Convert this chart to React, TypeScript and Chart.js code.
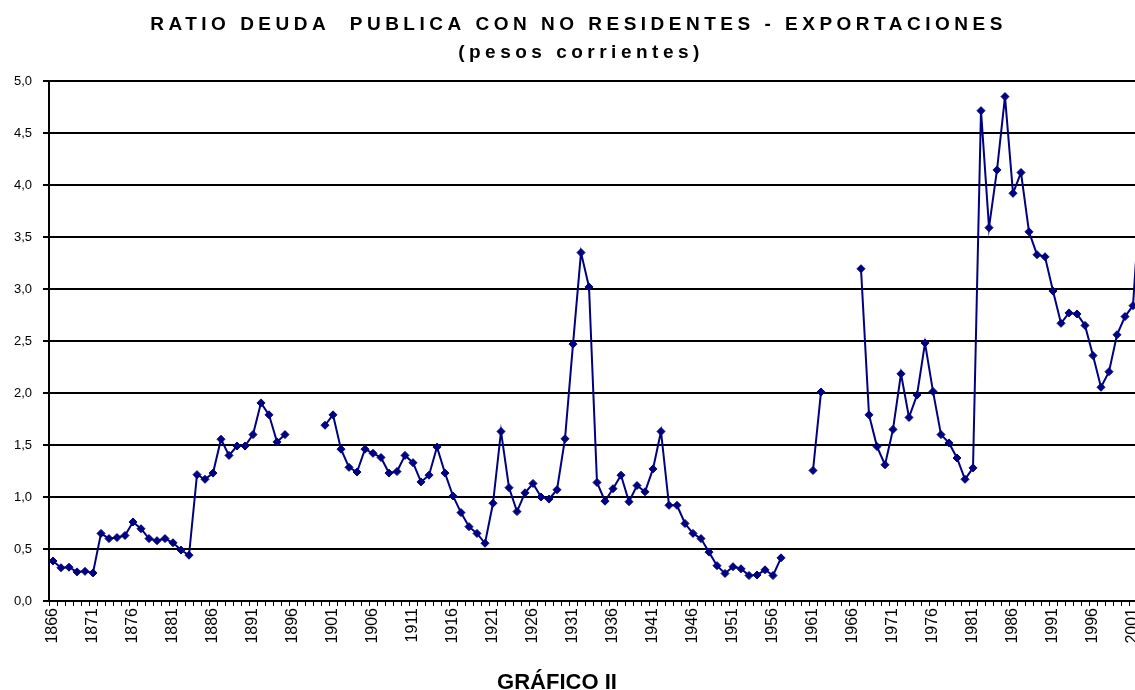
import React, { useEffect, useRef } from 'react';
import { Chart, registerables } from 'chart.js';

Chart.register(...registerables);

const titleLine1 = 'RATIO DEUDA  PUBLICA CON NO RESIDENTES - EXPORTACIONES';
const titleLine2 = '(pesos corrientes)';
const footerText = 'GRÁFICO II';

const firstYear = 1866;
const lastYear = 2002;
const years: string[] = Array.from({ length: lastYear - firstYear + 1 }, (_, i) => String(firstYear + i));

// Ratio deuda pública con no residentes / exportaciones (null = sin dato)
const ratio1866to1895: (number | null)[] = [
  0.385, 0.32, 0.325, 0.28, 0.285, 0.27, 0.65, 0.6, 0.61, 0.63,
  0.76, 0.695, 0.6, 0.58, 0.6, 0.56, 0.49, 0.44, 1.215, 1.17,
  1.23, 1.555, 1.4, 1.49, 1.49, 1.6, 1.905, 1.79, 1.53, 1.6,
];
const ratio1896to1899: (number | null)[] = [null, null, null, null];
const ratio1900to1957: (number | null)[] = [
  1.69, 1.79, 1.46, 1.285, 1.24, 1.46, 1.42, 1.38, 1.23, 1.245,
  1.4, 1.33, 1.145, 1.21, 1.48, 1.23, 1.01, 0.85, 0.715, 0.65,
  0.555, 0.94, 1.63, 1.09, 0.86, 1.04, 1.13, 1.0, 0.98, 1.07,
  1.56, 2.47, 3.35, 3.02, 1.14, 0.96, 1.08, 1.21, 0.955, 1.11,
  1.05, 1.27, 1.63, 0.92, 0.92, 0.745, 0.65, 0.6, 0.47, 0.34,
  0.265, 0.33, 0.31, 0.245, 0.25, 0.3, 0.245, 0.415,
];
const ratio1958to1960: (number | null)[] = [null, null, null];
const ratio1961to1962: (number | null)[] = [1.255, 2.01];
const ratio1963to1966: (number | null)[] = [null, null, null, null];
const ratio1967to2002: (number | null)[] = [
  3.195, 1.79, 1.485, 1.31, 1.65, 2.185, 1.765, 1.98, 2.48, 2.015,
  1.6, 1.52, 1.375, 1.17, 1.28, 4.715, 3.59, 4.145, 4.85, 3.92,
  4.12, 3.55, 3.33, 3.31, 2.98, 2.67, 2.77, 2.76, 2.65, 2.36,
  2.055, 2.205, 2.56, 2.735, 2.84, 4.0,
];
const ratio: (number | null)[] = [
  ...ratio1866to1895,
  ...ratio1896to1899,
  ...ratio1900to1957,
  ...ratio1958to1960,
  ...ratio1961to1962,
  ...ratio1963to1966,
  ...ratio1967to2002,
];

const FONT = '"Liberation Sans", Arial, sans-serif';

const textPlugin = {
  id: 'textPlugin',
  afterDraw(chart: any) {
    const ctx = chart.ctx as CanvasRenderingContext2D;
    ctx.save();
    ctx.fillStyle = '#000';
    ctx.textAlign = 'center';
    ctx.textBaseline = 'alphabetic';
    ctx.font = `bold 19px ${FONT}`;
    (ctx as any).letterSpacing = '4.5px';
    ctx.fillText(titleLine1, 578.5, 30);
    ctx.fillText(titleLine2, 581, 58);
    (ctx as any).letterSpacing = '0px';
    ctx.font = `bold 22px ${FONT}`;
    ctx.fillText(footerText, 557, 689);
    ctx.restore();
  },
};

export default function App() {
  const canvasRef = useRef<HTMLCanvasElement | null>(null);

  useEffect(() => {
    if (!canvasRef.current) return;
    const chart = new Chart(canvasRef.current, {
      type: 'line',
      data: {
        labels: years,
        datasets: [
          {
            data: ratio,
            borderColor: '#000080',
            backgroundColor: '#000080',
            borderWidth: 2,
            pointStyle: 'rectRot',
            pointRadius: 4,
            pointBorderWidth: 1,
            pointBackgroundColor: '#000080',
            pointBorderColor: '#000080',
            spanGaps: false,
            tension: 0,
          },
        ],
      },
      options: {
        responsive: false,
        animation: false,
        layout: { padding: { top: 81, left: 0, right: 0, bottom: 0 } },
        plugins: {
          legend: { display: false },
          title: { display: false },
          tooltip: { enabled: false },
        },
        scales: {
          x: {
            type: 'category',
            offset: true,
            border: { display: true, color: '#000', width: 2 },
            grid: {
              display: true,
              offset: true,
              drawOnChartArea: false,
              drawTicks: true,
              tickLength: 5,
              color: '#000',
              lineWidth: 1,
            },
            ticks: {
              autoSkip: false,
              minRotation: 90,
              maxRotation: 90,
              padding: 2,
              color: '#000',
              font: { family: FONT, size: 16 },
              callback: (_v: any, i: number) => ((Number(years[i]) - firstYear) % 5 === 0 ? years[i] : ''),
            },
            afterFit: (s: any) => {
              s.height = 89;
              s.paddingLeft = 0;
              s.paddingRight = 0;
            },
          },
          y: {
            min: 0,
            max: 5,
            border: { display: true, color: '#000', width: 2 },
            grid: {
              color: '#000',
              lineWidth: 2,
              drawTicks: true,
              tickLength: 6,
            },
            ticks: {
              stepSize: 0.5,
              padding: 11,
              color: '#000',
              font: { family: FONT, size: 13 },
              callback: (v: any) => Number(v).toFixed(1).replace('.', ','),
            },
            afterFit: (s: any) => {
              s.width = 49;
              s.paddingTop = 0;
              s.paddingBottom = 0;
            },
          },
        },
      },
      plugins: [textPlugin],
    });
    return () => chart.destroy();
  }, []);

  return (
    <div
      style={{
        position: 'absolute',
        left: 0,
        top: 0,
        width: 1135,
        height: 690,
        overflow: 'hidden',
        background: '#fff',
      }}
    >
      <canvas ref={canvasRef} width={1150} height={690} style={{ display: 'block' }} />
    </div>
  );
}
